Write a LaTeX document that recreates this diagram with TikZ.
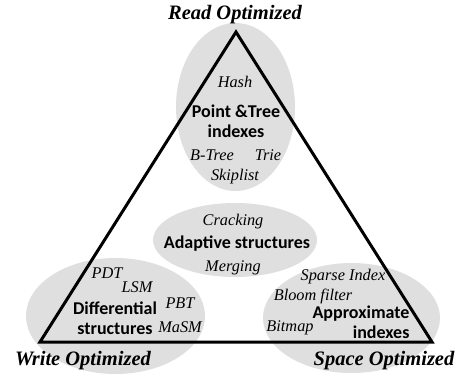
\documentclass[tikz,border=0pt]{standalone}
\usepackage{fontspec}
\setmainfont{Liberation Serif}
\newfontfamily\calibri{Carlito}
\usetikzlibrary{shapes.geometric}

\begin{document}
\begin{tikzpicture}[x=1pt, y=-1pt,
		blob/.style={ellipse, fill=gray!25, inner sep=0pt},
		kind/.style={font=\calibri\bfseries\fontsize{18}{20.5}\selectfont, inner sep=0pt},
		item/.style={font=\itshape\fontsize{16.3}{18}\selectfont, inner sep=0pt},
		corner/.style={font=\bfseries\itshape\fontsize{20.5}{22}\selectfont, inner sep=0pt}]
		\useasboundingbox (0,0) rectangle (458,375);
		% grey areas
		\node[blob, minimum width=119pt, minimum height=168pt] (readblob) at (235.5,107) {};
		\node[blob, minimum width=164pt, minimum height=74pt] (adaptblob) at (235,240) {};
		\node[blob, minimum width=179pt, minimum height=116pt] (writeblob) at (115.5,316) {};
		\node[blob, minimum width=177pt, minimum height=110pt] (spaceblob) at (351.5,318) {};
		% the triangle
		\coordinate (readtip) at (236,32);
		\coordinate (writetip) at (40,342);
		\coordinate (spacetip) at (432,342);
		\draw [line width=3pt, line join=miter] (readtip) -- (writetip) -- (spacetip) -- cycle;
		\node[corner] (readlbl) at (235,15) {Read Optimized};
		\node[corner] (writelbl) at (83,361) {Write Optimized};
		\node[corner] (spacelbl) at (384,361) {Space Optimized};
		% read optimized
		\node[item] (hash) at (235,82) {Hash};
		\node[kind, align=center] (pointtree) at (236,121) {Point \&Tree\\indexes};
		\node[item] (btree) at (212,155) {B-Tree};
		\node[item] (trie) at (268,155) {Trie};
		\node[item] (skiplist) at (235,177) {Skiplist};
		% adaptive
		\node[item] (cracking) at (233,222) {Cracking};
		\node[kind] (adaptive) at (237,244) {Adaptive structures};
		\node[item] (merging) at (233,268) {Merging};
		% write optimized
		\node[item] (pdt) at (107,273) {PDT};
		\node[item] (lsm) at (137,287) {LSM};
		\node[item] (pbt) at (180,303) {PBT};
		\node[item] (masm) at (180,327) {MaSM};
		\node[kind, align=center] (differential) at (115,318) {Differential\\structures};
		% space optimized
		\node[item] (sparse) at (343,277) {Sparse Index};
		\node[item] (bloom) at (313,296) {Bloom filter};
		\node[item] (bitmap) at (290,328) {Bitmap};
		\node[kind, align=right] (approx) at (361,322) {Approximate\\indexes};
\end{tikzpicture}
\end{document}
